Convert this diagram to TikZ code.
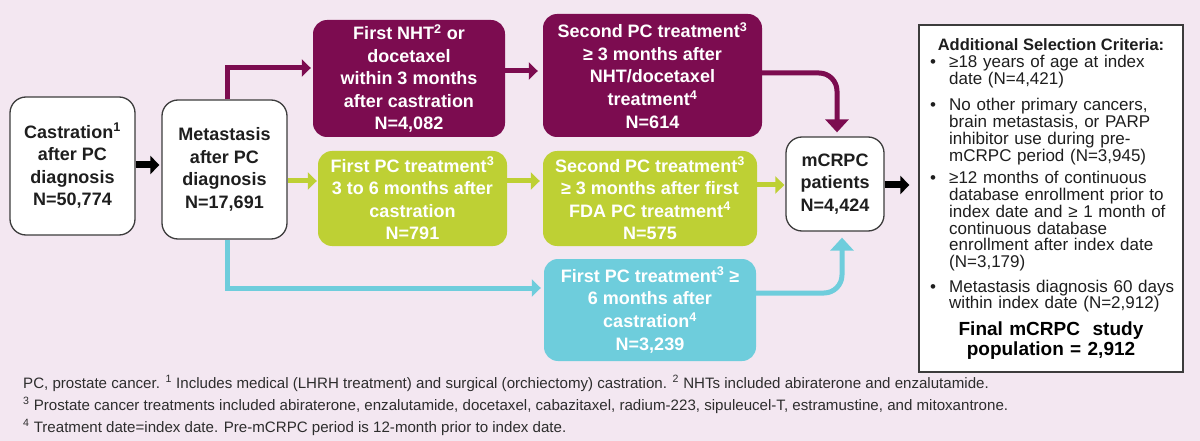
\documentclass[tikz,border=0pt]{standalone}
\usepackage{fontspec}
\setmainfont{Liberation Sans}
\usetikzlibrary{arrows.meta,calc}
\definecolor{bg}{RGB}{243,231,241}
\definecolor{pur}{RGB}{124,12,80}
\definecolor{grn}{RGB}{190,208,52}
\definecolor{cyn}{RGB}{110,205,220}
\definecolor{edge}{RGB}{60,60,60}
\definecolor{ink}{RGB}{30,30,30}
\definecolor{note}{RGB}{45,45,45}
\tikzset{
  boxtext/.style={inner sep=0pt, align=center, font=\fontsize{18}{22.6}\selectfont\bfseries},
  wbox/.style={boxtext, draw=edge, line width=1.3pt, fill=white, rounded corners=16pt, text=ink},
  cbox/.style={boxtext, fill=#1, rounded corners=14pt, text=white},
  flow/.style={draw=#1, line width=5pt, -{Triangle[length=9pt,width=17pt]}},
  vflow/.style={draw=#1, line width=5pt, rounded corners=18pt, -{Triangle[length=13pt,width=23pt]}},
  blk/.style={draw=black, line width=7pt, -{Triangle[length=9pt,width=18pt]}},
  crittext/.style={inner sep=0pt, text width=232pt, align=left, text=ink, font=\fontsize{17}{16.7}\selectfont},
  bul/.style={inner sep=0pt, text=ink, font=\fontsize{17}{16.7}\selectfont},
  notetext/.style={inner sep=0pt, text=note, font=\fontsize{15.1}{17}\selectfont, anchor=base west}
}
\begin{document}
\begin{tikzpicture}[x=1pt,y=-1pt]
\path[fill=bg, use as bounding box] (0,0) rectangle (1200,441);

% main boxes
\node[wbox, minimum width=125pt, minimum height=138pt] (cast) at (72.5,166)
  {Castration\textsuperscript{1}\\after PC\\diagnosis\\N=50,774};
\node[wbox, minimum width=125pt, minimum height=139pt] (meta) at (224.5,169.5)
  {Metastasis\\after PC\\diagnosis\\N=17,691};
\node[cbox=pur, minimum width=192pt, minimum height=117pt] (p1) at (409,78.5)
  {First NHT\textsuperscript{2} or\\docetaxel\\within 3 months\\after castration\\N=4,082};
\node[cbox=pur, minimum width=219pt, minimum height=123pt] (p2) at (652.5,75.5)
  {Second PC treatment\textsuperscript{3}\\≥ 3 months after\\NHT/docetaxel\\treatment\textsuperscript{4}\\N=614};
\node[cbox=grn, minimum width=189pt, minimum height=95pt] (g1) at (412.5,198.5)
  {First PC treatment\textsuperscript{3}\\3 to 6 months after\\castration\\N=791};
\node[cbox=grn, minimum width=214pt, minimum height=95pt] (g2) at (650,198.5)
  {Second PC treatment\textsuperscript{3}\\≥ 3 months after first\\FDA PC treatment\textsuperscript{4}\\N=575};
\node[cbox=cyn, minimum width=212pt, minimum height=102pt] (c1) at (650,310)
  {First PC treatment\textsuperscript{3} ≥\\6 months after\\castration\textsuperscript{4}\\N=3,239};
\node[wbox, minimum width=98pt, minimum height=94pt] (mc) at (835,184)
  {mCRPC\\patients\\N=4,424};
\node[draw=edge, line width=1.3pt, fill=white, minimum width=264pt, minimum height=347pt, inner sep=0pt] (crit) at (1051,198.5) {};

% connectors
\coordinate (ya) at (0,68);
\coordinate (yb) at (0,71);
\coordinate (yc) at (0,73);
\coordinate (yg) at (0,181);
\coordinate (yh) at (0,185);
\coordinate (yk) at (0,288);
\coordinate (yl) at (0,293);
\coordinate (mcin) at ([xshift=2pt]mc.north);
\coordinate (mcup) at ([xshift=7pt]mc.south);
\coordinate (critin) at ([xshift=-9pt]crit.west |- yh);

\draw[blk] (cast.east |- 0,165) -- ([xshift=-2pt]meta.west |- 0,165);
\draw[flow=pur] ([xshift=2.5pt]meta.north) |- ([xshift=-2pt]p1.west |- ya);
\draw[flow=pur] (p1.east |- yb) -- ([xshift=-5pt]p2.west |- yb);
\draw[vflow=pur] (p2.east |- yc) -| ([yshift=4pt]mcin);
\draw[flow=grn] (meta.east |- yg) -- ([xshift=-1pt]g1.west |- yg);
\draw[flow=grn] (g1.east |- yg) -- ([xshift=-3pt]g2.west |- yg);
\draw[flow=grn] (g2.east |- yh) -- ([xshift=-1pt]mc.west |- yh);
\draw[flow=cyn] ([xshift=2.5pt]meta.south) |- ([xshift=-3pt]c1.west |- yk);
\draw[vflow=cyn] (c1.east |- yl) -| ([yshift=-6pt]mcup);
\draw[blk] (mc.east |- yh) -- (critin);

% criteria box content
\node[inner sep=0pt, anchor=base, text=ink, font=\fontsize{16.5}{17}\selectfont\bfseries] (ctitle) at (1051,51) {Additional Selection Criteria:};
\node[bul, anchor=base west] (b1) at (930,68) {•};
\node[bul, anchor=base west] (b2) at (930,111) {•};
\node[bul, anchor=base west] (b3) at (930,184) {•};
\node[bul, anchor=base west] (b4) at (930,292) {•};
\node[crittext, anchor=base west] (t1) at (949,68) {≥18 years of age at index\\date (N=4,421)};
\node[crittext, anchor=base west] (t2) at (949,111) {No other primary cancers,\\brain metastasis, or PARP\\inhibitor use during pre-\\mCRPC period (N=3,945)};
\node[crittext, anchor=base west] (t3) at (949,184) {≥12 months of continuous\\database enrollment prior to\\index date and ≥ 1 month of\\continuous database\\enrollment after index date\\(N=3,179)};
\node[crittext, anchor=base west] (t4) at (949,292) {Metastasis diagnosis 60 days\\within index date (N=2,912)};
\node[inner sep=0pt, anchor=base, text width=250pt, align=center, text=black, font=\fontsize{19}{20}\selectfont\bfseries] (final) at (1051,335) {Final mCRPC\ \ study\\population = 2,912};

% footnotes
\node[notetext] (n1) at (23,388) {PC, prostate cancer. \textsuperscript{1} Includes medical (LHRH treatment) and surgical (orchiectomy) castration. \textsuperscript{2} NHTs included abiraterone and enzalutamide.};
\node[notetext] (n2) at (23,410) {\textsuperscript{3} Prostate cancer treatments included abiraterone, enzalutamide, docetaxel, cabazitaxel, radium-223, sipuleucel-T, estramustine, and mitoxantrone.};
\node[notetext] (n3) at (23,432) {\textsuperscript{4} Treatment date=index date. Pre-mCRPC period is 12-month prior to index date.};
\end{tikzpicture}
\end{document}
